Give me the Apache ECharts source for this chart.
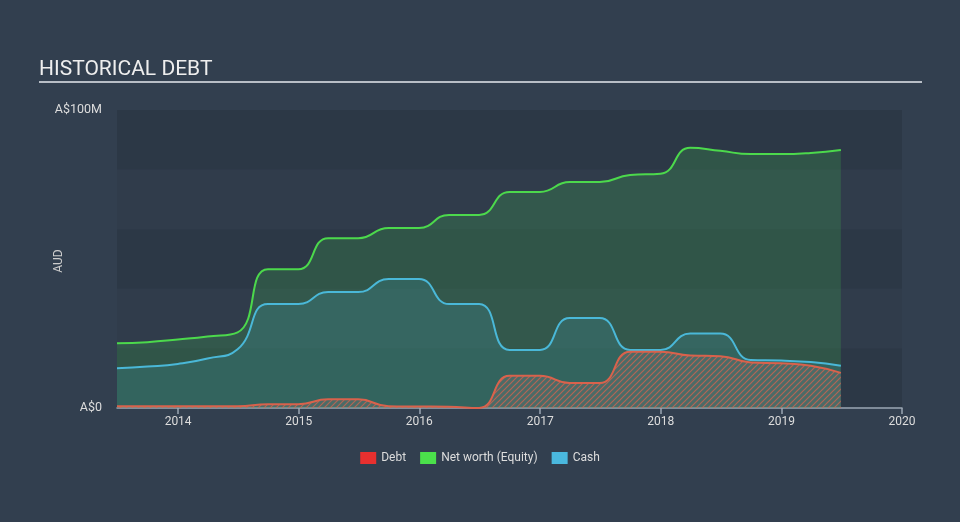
<!DOCTYPE html>
<html>
<head>
<meta charset="utf-8">
<script src="https://cdn.jsdelivr.net/npm/echarts@6/dist/echarts.min.js"></script>
<style>
html,body{margin:0;padding:0;background:#323f4f;}
#chart{width:960px;height:522px;}
</style>
</head>
<body>
<div id="chart"></div>
<script>
// Quarter-end dates
const dates = [
  '2013-06-30','2013-09-30','2013-12-31','2014-03-31','2014-06-30','2014-09-30','2014-12-31',
  '2015-03-31','2015-06-30','2015-09-30','2015-12-31','2016-03-31','2016-06-30','2016-09-30',
  '2016-12-31','2017-03-31','2017-06-30','2017-09-30','2017-12-31','2018-03-31','2018-06-30',
  '2018-09-30','2018-12-31','2019-03-31','2019-06-30'
];
// Values in A$ millions
const debt = [0.6,0.6,0.6,0.6,0.6,1.3,1.3,2.9,2.9,0.6,0.5,0.4,0.0,10.8,10.8,8.4,8.4,18.9,18.9,17.6,17.4,15.3,15.0,14.2,11.8];
const netWorth = [21.7,22.1,23.0,24.0,25.4,46.6,46.6,57.0,57.0,60.4,60.4,64.8,64.8,72.5,72.5,75.8,75.8,78.2,78.6,87.3,86.3,85.2,85.2,85.6,86.6];
const cash = [13.3,13.9,14.8,16.6,19.7,34.9,34.9,38.9,38.9,43.3,43.3,34.9,34.9,19.5,19.5,30.2,30.2,19.5,19.5,25.0,25.0,16.1,15.9,15.4,14.2];
const yearTicks = ['2014-01-01','2015-01-01','2016-01-01','2017-01-01','2018-01-01','2019-01-01','2020-01-01'];
const seriesNames = ['Debt','Net worth (Equity)','Cash'];

const ts = s => Date.parse(s + 'T00:00:00Z');
function pair(vals){ return dates.map((d,i)=>[ts(d), vals[i]]); }

// hatch pattern for debt area
const pc = document.createElement('canvas');
pc.width = 6; pc.height = 6;
const g = pc.getContext('2d');
g.fillStyle = 'rgba(120,120,120,0.35)';
g.fillRect(0,0,6,6);
g.strokeStyle = 'rgba(215,100,80,0.75)';
g.lineWidth = 1.2;
g.beginPath();
g.moveTo(0,6); g.lineTo(6,0);
g.moveTo(-3,3); g.lineTo(3,-3);
g.moveTo(3,9); g.lineTo(9,3);
g.stroke();

const chart = echarts.init(document.getElementById('chart'), null, {renderer:'canvas'});
const yearTs = yearTicks.map(ts);
chart.setOption({
  backgroundColor: '#323f4f',
  animation: false,
  textStyle: { fontFamily: 'Roboto' },
  graphic: [
    { type:'text', left:39, top:59, style:{ text:'HISTORICAL DEBT', fill:'#eeeeee', font:'21px Roboto' } },
    { type:'rect', shape:{ x:39, y:81, width:883, height:2 }, style:{ fill:'#b8bec6' } },
    { type:'text', x:59, y:261, rotation: Math.PI/2,
      style:{ text:'AUD', fill:'#cccccc', font:'12px Roboto', align:'center', verticalAlign:'middle' } }
  ],
  grid: { left:117, right:58, top:110, bottom:114 },
  legend: {
    data: seriesNames,
    bottom: 53,
    left: 'center',
    itemWidth: 16, itemHeight: 12, itemGap: 14,
    icon: 'rect',
    textStyle: { color:'#dddddd', fontSize:12 }
  },
  xAxis: {
    type: 'value',
    min: ts('2013-06-30'),
    max: ts('2020-01-01'),
    axisLine: { lineStyle:{ color:'#9aa6b4', width:1.5 } },
    axisTick: { show:true, customValues: yearTs, length:6, lineStyle:{ color:'#9aa6b4', width:1.5 } },
    axisLabel: { customValues: yearTs, color:'#dddddd', fontSize:12, margin:8,
      formatter: v => String(new Date(v).getUTCFullYear()) },
    splitLine: { show:false }
  },
  yAxis: {
    type: 'value',
    min: 0, max: 100, interval: 20,
    axisLine: { show:false }, axisTick: { show:false },
    axisLabel: { color:'#dddddd', fontSize:12.5, margin:15,
      formatter: v => v === 0 ? 'A$0' : (v === 100 ? 'A$100M' : '') },
    splitLine: { show:false },
    splitArea: { show:true, areaStyle:{ color:['rgba(0,0,0,0.10)','rgba(0,0,0,0.04)'] } }
  },
  series: [
    { name:'Debt', type:'line', data: pair(debt), z:5, symbol:'none',
      smooth:0.5,
      itemStyle:{ color:'#e8302f' },
      lineStyle:{ color:'#d9624c', width:2 },
      areaStyle:{ color:{ image: pc, repeat:'repeat' }, opacity:1 } },
    { name:'Net worth (Equity)', type:'line', data: pair(netWorth), z:2, symbol:'none',
      smooth:0.5,
      itemStyle:{ color:'#4be04b' },
      lineStyle:{ color:'#4cd94c', width:2 },
      areaStyle:{ color:'rgba(67,195,80,0.3)' } },
    { name:'Cash', type:'line', data: pair(cash), z:3, symbol:'none',
      smooth:0.5,
      itemStyle:{ color:'#4ab8de' },
      lineStyle:{ color:'#4ab8d8', width:2 },
      areaStyle:{ color:'rgba(74,184,216,0.22)' } }
  ]
});
</script>
</body>
</html>
